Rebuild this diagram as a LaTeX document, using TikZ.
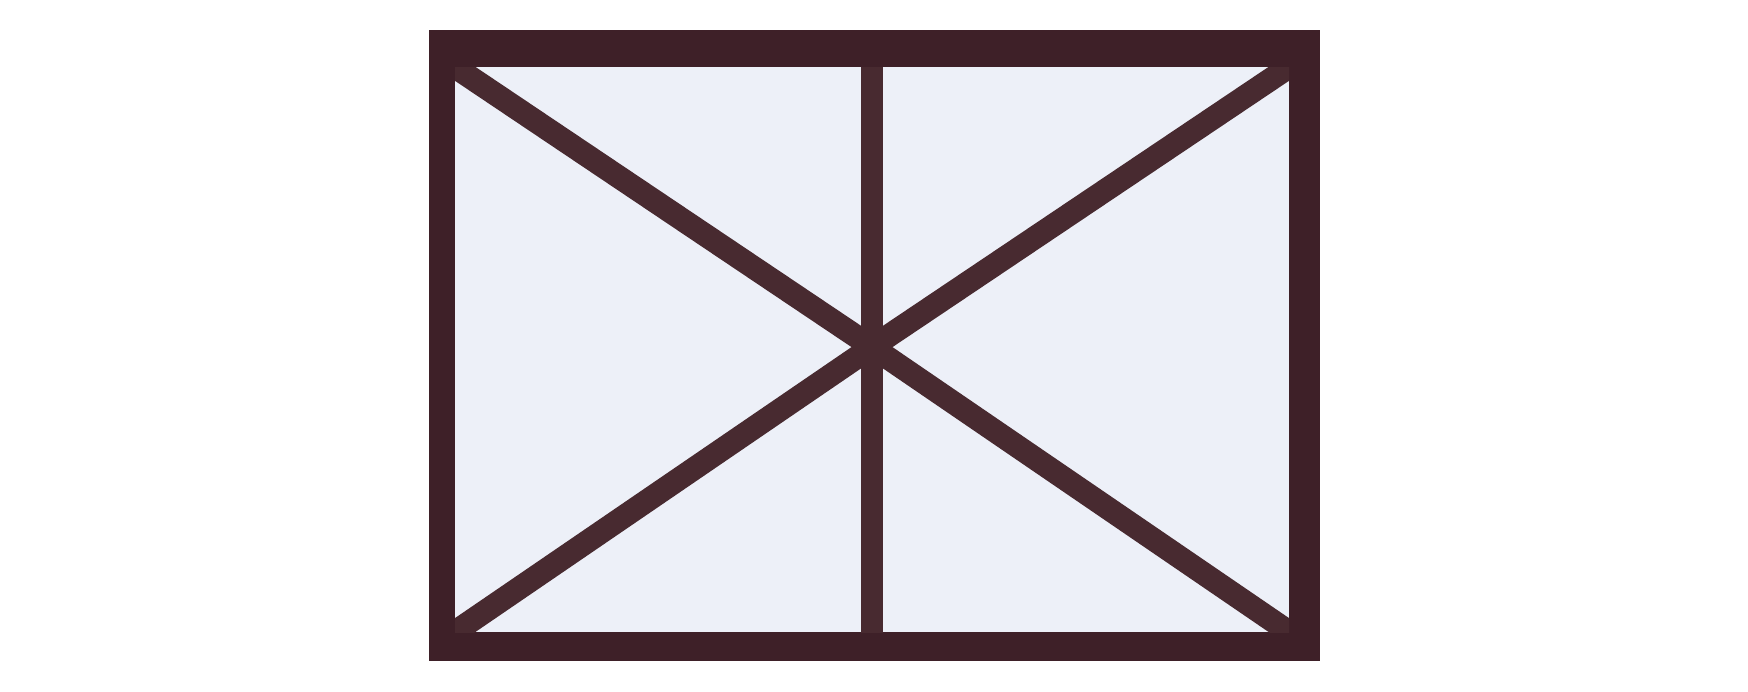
\documentclass[tikz,border=0pt]{standalone}
\usetikzlibrary{calc}
\definecolor{framec}{RGB}{62,32,40}
\definecolor{barc}{RGB}{72,42,48}
\definecolor{panec}{RGB}{237,240,248}
\begin{document}
\begin{tikzpicture}[x=1pt,y=-1pt,barfill/.style={fill=barc}]
\useasboundingbox (0,0) rectangle (1748,691);
\fill[white] (0,0) rectangle (1748,691);
\fill[framec] (429,30) rectangle (1320,661);
\fill[panec] (455,67) rectangle (1289,632);
\coordinate (c) at (872,347);
\coordinate (tl) at ($(c)!1.06!(455,67)$);
\coordinate (tr) at ($(c)!1.06!(1289,67)$);
\coordinate (bl) at ($(c)!1.06!(455,632)$);
\coordinate (br) at ($(c)!1.06!(1289,632)$);
\begin{scope}
\clip (455,67) rectangle (1289,632);
\foreach \p in {tl,tr,bl,br}{
  \fill[barfill] ($(\p)!11.5pt!90:(c)$) -- ($(c)!11.5pt!-90:(\p)$) -- ($(c)!11.5pt!90:(\p)$) -- ($(\p)!11.5pt!-90:(c)$) -- cycle;
}
\fill[barfill] (861,58) rectangle (883,640);
\fill[barfill] (c) circle (14pt);
\end{scope}
\end{tikzpicture}
\end{document}
